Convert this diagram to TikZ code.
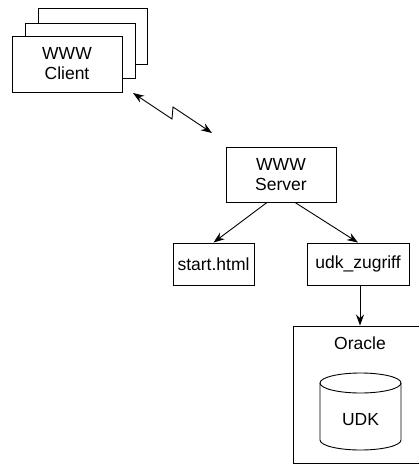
\documentclass[tikz,border=0pt]{standalone}
\usepackage{fontspec}
\setmainfont{Liberation Sans}
\usetikzlibrary{arrows.meta}
\begin{document}
\begin{tikzpicture}[x=1pt,y=1pt,
  line width=0.9pt,
  every node/.style={font=\fontsize{17.5}{20}\selectfont, inner sep=0pt},
  box/.style={draw, fill=white, rectangle, align=center},
  tipshape/.style={Stealth[length=11pt,width=8pt]},
  arr/.style={-{Stealth[length=11pt,width=8pt]}},
  dblarr/.style={{Stealth[length=11pt,width=8pt]}-{Stealth[length=11pt,width=8pt]}}]
\useasboundingbox (0,0) rectangle (419,-465);
\clip (0,0) rectangle (419,-465);

% stacked client windows
\node[box, minimum width=109pt, minimum height=56pt] (clientc) at (92.5,-36) {};
\node[box, minimum width=110pt, minimum height=55pt] (clientb) at (80,-50.5) {};
\node[box, minimum width=110pt, minimum height=56pt] (client) at (67,-64) {WWW\\Client};

% server
\node[box, minimum width=110pt, minimum height=55pt] (server) at (281,-174.5) {WWW\\Server};

% scripts
\node[box, minimum width=81pt, minimum height=42pt] (start) at (213.5,-264) {start.html};
\node[box, minimum width=102pt, minimum height=42pt] (udk) at (358,-264) {udk\_zugriff};

% database frame
\node[draw, rectangle, minimum width=133pt, minimum height=137pt] (oracle) at (359.5,-394.5) {};
\node (oraclelbl) at (360,-343) {Oracle};

% database cylinder
\draw (320,-383) -- (320,-440)
  arc[start angle=180, end angle=360, x radius=40.5, y radius=10]
  -- (401,-383);
\draw (360.5,-383) ellipse[x radius=40.5, y radius=10];
\node (udkdb) at (360.5,-420) {UDK};

% network link (zigzag)
\coordinate (lzA) at (133,-93);
\coordinate (lzB) at (172,-119);
\coordinate (lzC) at (173,-107);
\coordinate (lzD) at (212,-133);
\draw[dblarr] (lzA) -- (lzB) -- (lzC) -- (lzD);

% connectors
\draw[arr] ([xshift=-14pt]server.south) -- (start.north);
\draw[arr] ([xshift=14pt]server.south) -- (udk.north);
\draw[arr] ([xshift=2pt]udk.south) -- ([xshift=2pt]udk.south |- oracle.north);
\end{tikzpicture}
\end{document}
